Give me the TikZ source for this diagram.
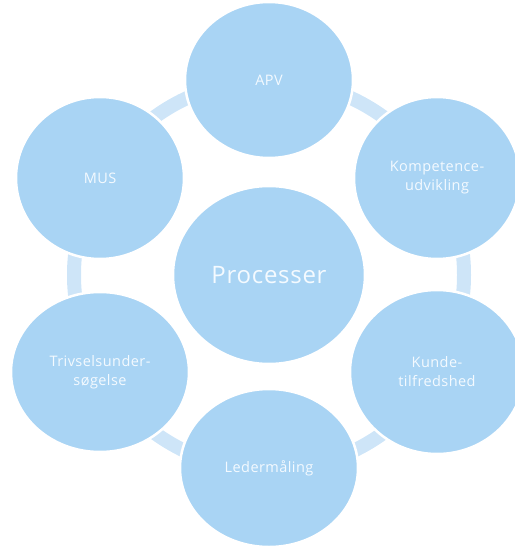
\documentclass[tikz,border=0pt]{standalone}
\usepackage{fontspec}
\setmainfont[LetterSpace=3]{Open Sans}
\usetikzlibrary{shapes.geometric}
\definecolor{bubble}{HTML}{A9D4F4}
\definecolor{band}{HTML}{CEE5F8}
\definecolor{txt}{HTML}{F4FAFF}
\tikzset{
  bub/.style={ellipse, fill=bubble, draw=white, line width=2.5pt, text=txt, align=center, inner sep=0pt},
  outer/.style={bub, minimum width=#1, font=\fontsize{14.5}{19}\selectfont},
  outer/.default=168pt,
  ringband/.style={draw=band, line width=14pt}
}
\begin{document}
\begin{tikzpicture}[x=1pt,y=-1pt]
\useasboundingbox (0,0) rectangle (514,548);
\coordinate (c) at (269,275);
\draw[ringband] (c) circle (195pt);
\node[bub, minimum width=192pt, minimum height=178pt, font=\fontsize{24}{28}\selectfont] (proc) at (c) {Processer};
\node[outer=168pt, minimum height=156pt] (apv) at (269,80) {APV};
\node[outer=166pt, minimum height=162pt] (komp) at (437,178) {Kompetence-\\udvikling};
\node[outer=174pt, minimum height=164pt] (kunde) at (437,372) {Kunde-\\tilfredshed};
\node[outer=178pt, minimum height=158pt] (leder) at (269,468) {Ledermåling};
\node[outer=178pt, minimum height=160pt] (triv) at (100,372) {Trivselsunder-\\søgelse};
\node[outer=168pt, minimum height=162pt] (mus) at (100,178) {MUS};
\end{tikzpicture}
\end{document}
